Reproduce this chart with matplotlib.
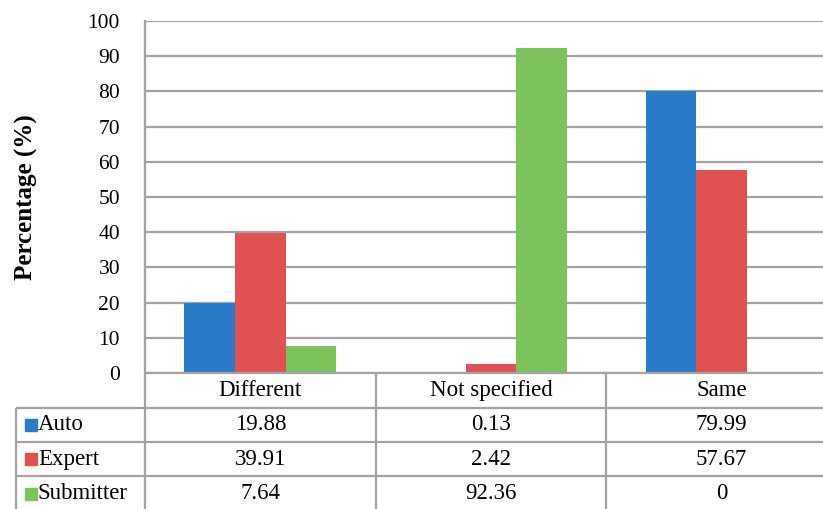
import numpy as np
import matplotlib.pyplot as plt

categories = ['Different', 'Not specified', 'Same']
series = ['Auto', 'Expert', 'Submitter']
auto = [19.88, 0.13, 79.99]
expert = [39.91, 2.42, 57.67]
submitter = [7.64, 92.36, 0]
colors = ['#2B7BCB', '#E05252', '#7CC35B']
yticks = list(range(0, 101, 10))

plt.rcParams['font.family'] = ['Liberation Serif', 'DejaVu Serif']
line_col = '#A3A3A3'

W, H = 823, 509
fig = plt.figure(figsize=(W / 100, H / 100), dpi=100)


def fx(px):
    return px / W


def fy(py):
    return 1 - py / H


# bar chart area (runs a little past the right edge of the figure)
ax = fig.add_axes([fx(145), fy(373), fx(837) - fx(145), fy(21) - fy(373)])
x = np.arange(len(categories))
w = 0.22
for i, vals in enumerate([auto, expert, submitter]):
    ax.bar(x + (i - 1) * w, vals, w, color=colors[i], zorder=3)

ax.set_xlim(-0.5, 2.5)
ax.set_ylim(0, 100)
ax.set_yticks(yticks)
ax.set_xticks([])
ax.tick_params(axis='y', length=0, pad=18, labelsize=15.5)
ax.grid(axis='y', color=line_col, linewidth=1.6)
ax.set_axisbelow(True)
for s in ['top', 'right', 'bottom']:
    ax.spines[s].set_visible(False)
ax.spines['left'].set_color(line_col)
ax.spines['left'].set_linewidth(1.6)
ax.set_ylabel('Percentage (%)', fontsize=18, fontweight='bold', labelpad=36)

# data table underneath
tab = fig.add_axes([fx(16), fy(511), fx(837) - fx(16), fy(373) - fy(511)])
xl = -0.5 - 129 / 230.7
tab.set_xlim(xl, 2.5)
tab.set_ylim(4, 0)
tab.axis('off')

lw = 1.6
tab.hlines(0, -0.5, 2.5, color=line_col, lw=lw, clip_on=False)
tab.hlines([1, 2, 3, 4], xl, 2.5, color=line_col, lw=lw, clip_on=False)
tab.vlines([-0.5, 0.5, 1.5], 0, 4, color=line_col, lw=lw, clip_on=False)
tab.vlines(xl, 1, 4, color=line_col, lw=lw, clip_on=False)

fs = 16.5
for j, c in enumerate(categories):
    tab.text(j, 0.5, c, ha='center', va='center', fontsize=fs)

for i, (name, vals) in enumerate(zip(series, [auto, expert, submitter])):
    yrow = i + 1.5
    tab.plot(xl + 15 / 230.7, yrow, marker='s', ms=8.5, color=colors[i], clip_on=False)
    tab.text(xl + 22 / 230.7, yrow, name, ha='left', va='center', fontsize=fs)
    for j, v in enumerate(vals):
        tab.text(j, yrow, f'{v:g}', ha='center', va='center', fontsize=fs)

fig.savefig('out.png', dpi=100)
